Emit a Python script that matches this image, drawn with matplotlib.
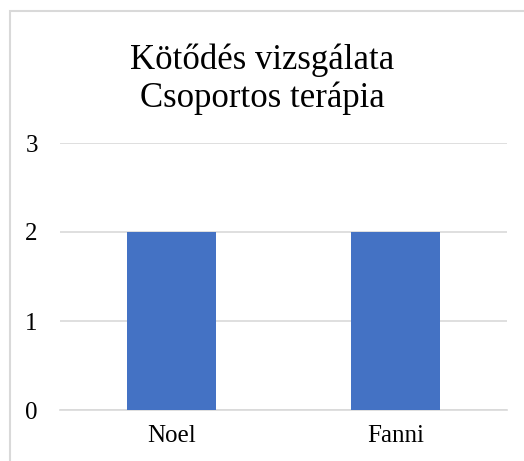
import matplotlib.pyplot as plt
from matplotlib.patches import Rectangle

names = ["Noel", "Fanni"]
values = [2, 2]
yticks = [0, 1, 2, 3]

plt.rcParams["font.family"] = ["Liberation Serif", "DejaVu Serif"]

fig = plt.figure(figsize=(5.24, 4.61), dpi=100)
W, H = 524, 461

# chart frame (cut off at right and bottom like the screenshot)
fig.patches.append(Rectangle((10 / W, -0.1), 1.2, 1 - 11 / H + 0.1,
                             transform=fig.transFigure, fill=False,
                             edgecolor="#D9D9D9", linewidth=1.5))

ax = fig.add_axes([60 / W, 1 - 410 / H, 447 / W, 267 / H])
ax.bar(names, values, width=0.4, color="#4472C4", zorder=3)
ax.set_xlim(-0.5, 1.5)
ax.set_ylim(0, 3)
ax.set_yticks(yticks)
ax.grid(axis="y", color="#D9D9D9", linewidth=1.2, zorder=0)
for s in ["top", "right", "left"]:
    ax.spines[s].set_visible(False)
ax.spines["bottom"].set_color("#D9D9D9")
ax.spines["bottom"].set_linewidth(1.2)
ax.tick_params(length=0, labelsize=18, colors="black")
ax.tick_params(axis="y", pad=16)
ax.tick_params(axis="x", pad=11)

fig.text(0.5, 1 - 79 / H, "Kötődés vizsgálata\nCsoportos terápia",
         ha="center", va="center", fontsize=25, linespacing=1.17)

plt.savefig("out.png", dpi=100)
